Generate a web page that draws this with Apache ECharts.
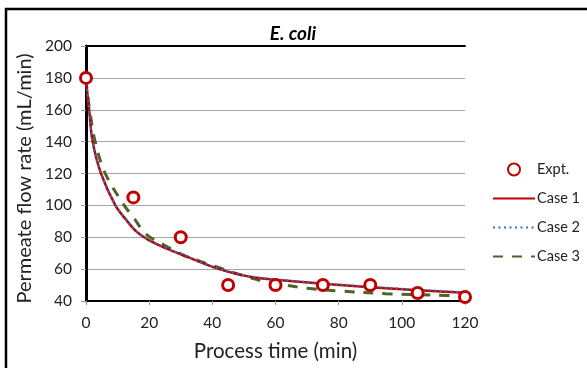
<!DOCTYPE html>
<html>
<head>
<meta charset="utf-8">
<script src="https://cdn.jsdelivr.net/npm/echarts@6/dist/echarts.min.js"></script>
<style>
  html, body { margin: 0; padding: 0; background: #fff; }
  #chart { width: 587px; height: 368px; }
</style>
</head>
<body>
<div id="chart"></div>
<script>
// experimental points (time, flow rate)
const exptTime = [0, 15, 30, 45, 60, 75, 90, 105, 120];
const exptFlow = [180, 105, 80, 50, 50, 50, 50, 45, 42.5];

// model curves
const case1Time = [0, 0.2, 1, 2.1, 4.75, 9.3, 12.7, 16, 20, 26, 31.7, 42.2, 52, 60, 75, 90, 105, 120];
const case1Flow = [180, 175, 160, 140, 120, 100, 91, 83.5, 78, 72.5, 68, 60, 55.2, 53.3, 50.8, 48.7, 46.8, 45.2];

const case2Time = [0, 0.2, 1, 2.1, 4.75, 9.3, 12.7, 16, 20, 26, 31.7, 42.2, 52, 60, 75, 90, 105, 120];
const case2Flow = [180, 175.5, 160.5, 140.5, 120.5, 100.4, 91.3, 83.8, 78.3, 72.8, 68.3, 60.2, 55.5, 53.6, 51.1, 49, 47.1, 45.5];

const case3Time = [0, 0.2, 1, 2.9, 6.1, 12.1, 15, 19, 25.3, 30.6, 36.4, 42.2, 48, 55, 62, 70, 80, 95, 110, 120];
const case3Flow = [180, 175, 162, 140, 120, 100, 92.5, 82, 74.5, 69, 64.7, 60.9, 57, 53, 50.3, 48, 46.3, 44.6, 43.7, 43.3];

const xTicks = [0, 20, 40, 60, 80, 100, 120];
const yTicks = [40, 60, 80, 100, 120, 140, 160, 180, 200];

const FONT = 'Lato';
const zip = (xs, ys) => xs.map((x, i) => [x, ys[i]]);

const chart = echarts.init(document.getElementById('chart'));

// line entries in the legend show only the stroke, no marker
const lineLegend = (name) => ({ name, itemStyle: { opacity: 0 } });

chart.setOption({
    backgroundColor: '#fff',
    animation: false,
    textStyle: { fontFamily: FONT },
    title: {
        text: 'E. coli',
        left: 288,
        top: 19,
        textAlign: 'center',
        textStyle: { fontFamily: FONT, fontSize: 19, fontWeight: 'bold', fontStyle: 'italic', color: '#000' },
    },
    graphic: [{
        type: 'rect',
        shape: { x: 6, y: 9, width: 640, height: 420 },
        style: { fill: 'none', stroke: '#000', lineWidth: 2.5 },
        silent: true,
        z: -10,
    }],
    grid: { left: 86, top: 46, right: 122, bottom: 67, containLabel: false },
    legend: {
        orient: 'vertical',
        left: 492,
        top: 162,
        padding: 0,
        itemWidth: 42,
        itemHeight: 12,
        itemGap: 14,
        textStyle: { fontFamily: FONT, fontSize: 14.5, color: '#222', padding: [0, 0, 0, -3] },
        data: ['Expt.', lineLegend('Case 1'), lineLegend('Case 2'), lineLegend('Case 3')],
    },
    xAxis: [{
        type: 'value',
        min: xTicks[0],
        max: xTicks[xTicks.length - 1],
        interval: 20,
        name: 'Process time (min)',
        nameLocation: 'middle',
        nameGap: 40,
        nameTextStyle: { fontFamily: FONT, fontSize: 20.5, color: '#222' },
        axisLine: { lineStyle: { color: '#000', width: 2 } },
        axisTick: { show: true, length: 4, lineStyle: { color: '#999' } },
        axisLabel: { fontFamily: FONT, fontSize: 15.5, color: '#222', margin: 14 },
        splitLine: { show: false },
    }, {
        type: 'value',
        position: 'top',
        min: 0, max: 120,
        axisLine: { lineStyle: { color: '#000', width: 2 } },
        axisTick: { show: false },
        axisLabel: { show: false },
        splitLine: { show: false },
    }],
    yAxis: [{
        type: 'value',
        min: yTicks[0],
        max: yTicks[yTicks.length - 1],
        interval: 20,
        name: 'Permeate flow rate (mL/min)',
        nameLocation: 'middle',
        nameGap: 48,
        nameTextStyle: { fontFamily: FONT, fontSize: 20, color: '#222', padding: [0, 10, 0, 0] },
        axisLine: { show: true, lineStyle: { color: '#000', width: 2 } },
        axisTick: { show: true, length: 5, lineStyle: { color: '#999' } },
        axisLabel: { fontFamily: FONT, fontSize: 15.5, color: '#222', margin: 14 },
        splitLine: { lineStyle: { color: '#a6a6a6', width: 1 } },
    }, {
        type: 'value',
        position: 'right',
        min: 40, max: 200,
        axisLine: { show: true, lineStyle: { color: '#000', width: 3 } },
        axisTick: { show: false },
        axisLabel: { show: false },
        splitLine: { show: false },
    }],
    series: [
        {
            name: 'Case 1',
            type: 'line',
            data: zip(case1Time, case1Flow),
            smooth: 0.35,
            symbol: 'none',
            lineStyle: { color: '#c00000', width: 2.5 },
            itemStyle: { color: '#c00000' },
            z: 3,
        },
        {
            name: 'Case 2',
            type: 'line',
            data: zip(case2Time, case2Flow),
            smooth: 0.35,
            symbol: 'none',
            lineStyle: { color: '#1a7ed4', width: 2, type: [2, 3.5] },
            itemStyle: { color: '#1a7ed4' },
            z: 4,
        },
        {
            name: 'Case 3',
            type: 'line',
            data: zip(case3Time, case3Flow),
            smooth: 0.35,
            symbol: 'none',
            lineStyle: { color: '#4f6228', width: 3, type: [10, 9] },
            itemStyle: { color: '#4f6228' },
            z: 2,
        },
        {
            name: 'Expt.',
            type: 'scatter',
            data: zip(exptTime, exptFlow),
            symbol: 'circle',
            symbolSize: 11,
            itemStyle: { color: '#fff', borderColor: '#c00000', borderWidth: 3, opacity: 1 },
            z: 5,
        },
    ],
});
</script>
</body>
</html>
